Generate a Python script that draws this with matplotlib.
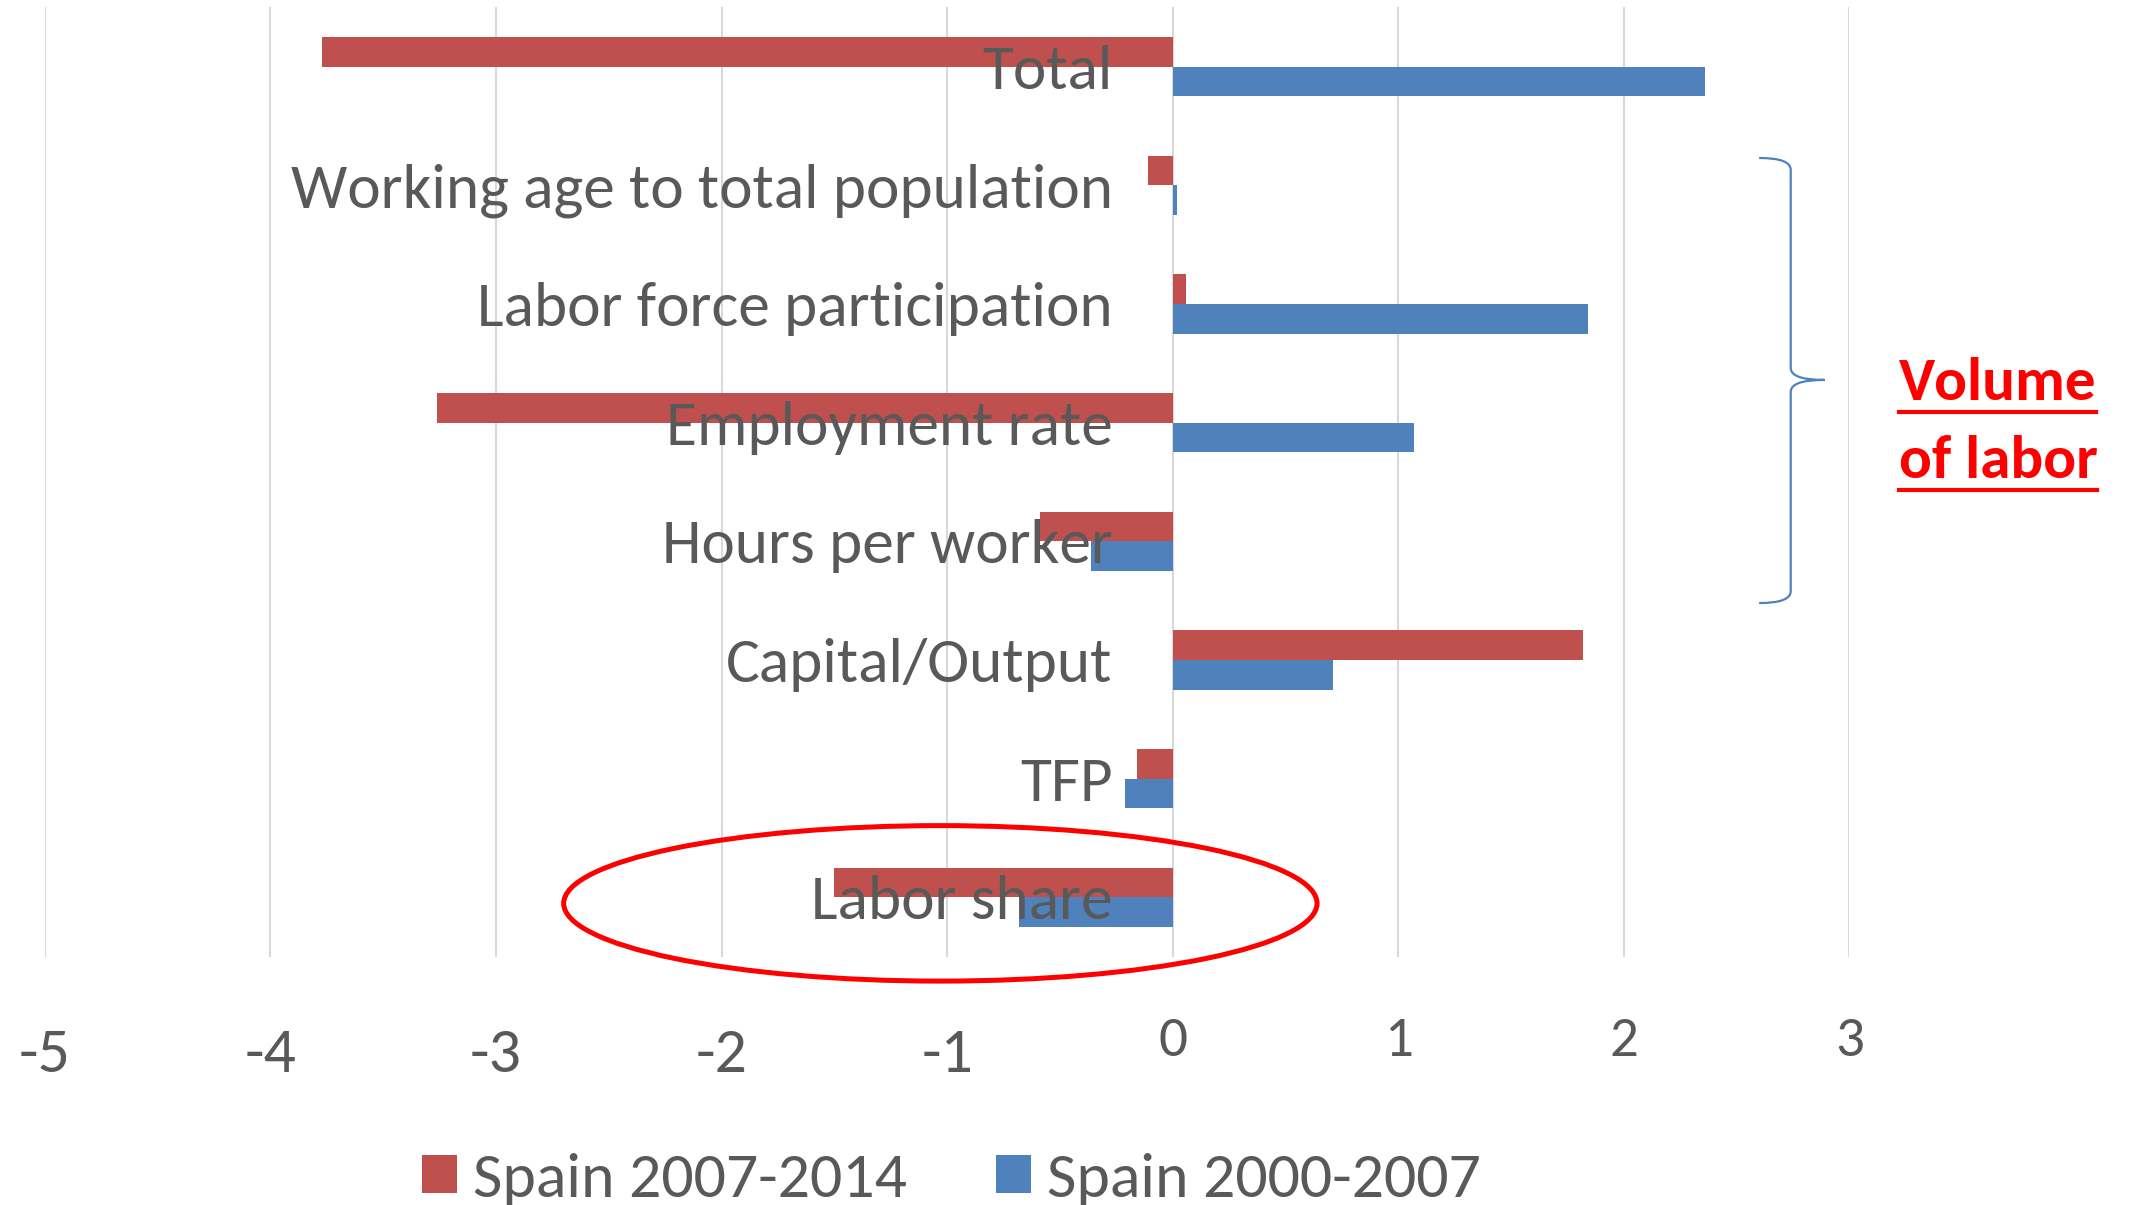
import matplotlib
matplotlib.use("Agg")
import matplotlib.pyplot as plt
import numpy as np
from matplotlib.patches import Ellipse, PathPatch
from matplotlib.path import Path
from matplotlib.transforms import ScaledTranslation
from matplotlib.lines import Line2D

plt.rcParams['axes.unicode_minus'] = False

categories = ["Total", "Working age to total population", "Labor force participation",
              "Employment rate", "Hours per worker", "Capital/Output", "TFP", "Labor share"]
spain_2007_2014 = [-3.77, -0.11, 0.06, -3.26, -0.59, 1.82, -0.16, -1.50]
spain_2000_2007 = [2.36, 0.02, 1.84, 1.07, -0.36, 0.71, -0.21, -0.68]
xticks = [-5, -4, -3, -2, -1, 0, 1, 2, 3]

red = "#C0504D"
blue = "#4F81BD"
grey = "#595959"
fam = ["Carlito", "Lato", "DejaVu Sans"]

fig = plt.figure(figsize=(21.38, 12.05), dpi=100)
ax = fig.add_axes([0.021, 0.206, 0.844, 0.788])

y = np.arange(len(categories))
ax.barh(y - 0.125, spain_2007_2014, height=0.25, color=red, label="Spain 2007-2014", zorder=2)
ax.barh(y + 0.125, spain_2000_2007, height=0.25, color=blue, label="Spain 2000-2007", zorder=2)

ax.set_xlim(-5, 3)
ax.set_ylim(7.5, -0.5)
ax.set_yticks([])
ax.set_xticks(xticks)
ax.set_xticklabels([str(t) for t in xticks], family=fam, color=grey)
ax.tick_params(axis='x', length=0)
for tick, val in zip(ax.xaxis.get_major_ticks(), xticks):
    if val < 0:
        tick.label1.set_fontsize(46)
        tick.set_pad(51)
    else:
        tick.label1.set_fontsize(41)
        tick.set_pad(43)

ax.xaxis.grid(True, color="#D9D9D9", lw=1.5)
ax.set_axisbelow(True)
for s in ax.spines.values():
    s.set_visible(False)

# category labels sit left of the zero line, on top of the bars
off = ax.transData + ScaledTranslation(-0.6, -0.05, fig.dpi_scale_trans)
for i, c in enumerate(categories):
    ax.text(0, i, c, ha='right', va='center', fontsize=45.5, color=grey,
            family=fam, transform=off, zorder=5)

# brace for "Volume of labor"
verts = [(2.60, 0.77), (2.74, 0.77), (2.74, 0.87), (2.74, 2.54), (2.74, 2.64), (2.89, 2.64),
         (2.89, 2.64), (2.74, 2.64), (2.74, 2.74), (2.74, 4.42), (2.74, 4.52), (2.60, 4.52)]
codes = [Path.MOVETO, Path.CURVE3, Path.CURVE3, Path.LINETO, Path.CURVE3, Path.CURVE3,
         Path.MOVETO, Path.CURVE3, Path.CURVE3, Path.LINETO, Path.CURVE3, Path.CURVE3]
ax.add_patch(PathPatch(Path(verts, codes), fill=False, ec=blue, lw=1.6, clip_on=False))

ax.add_patch(Ellipse((-1.03, 7.05), 3.34, 1.31, fill=False, ec="red", lw=3.6,
                     clip_on=False, zorder=6))

t1 = fig.text(0.888, 0.682, "Volume", color="red", fontsize=44, fontweight="bold",
              family=fam, va="center", ha="left")
t2 = fig.text(0.888, 0.617, "of labor", color="red", fontsize=44, fontweight="bold",
              family=fam, va="center", ha="left")
r = fig.canvas.get_renderer()
for t in (t1, t2):
    bb = t.get_window_extent(r).transformed(fig.transFigure.inverted())
    fig.add_artist(Line2D([bb.x0, bb.x1], [bb.y0 - 0.002, bb.y0 - 0.002],
                          color="red", lw=3, transform=fig.transFigure))

leg = fig.legend(loc="center", bbox_to_anchor=(0.445, 0.021), ncol=2, frameon=False,
                 prop={'family': fam, 'size': 46}, labelcolor=grey,
                 handlelength=0.55, handleheight=0.55, handletextpad=0.25,
                 columnspacing=1.4)

fig.savefig("out.png", dpi=100)
